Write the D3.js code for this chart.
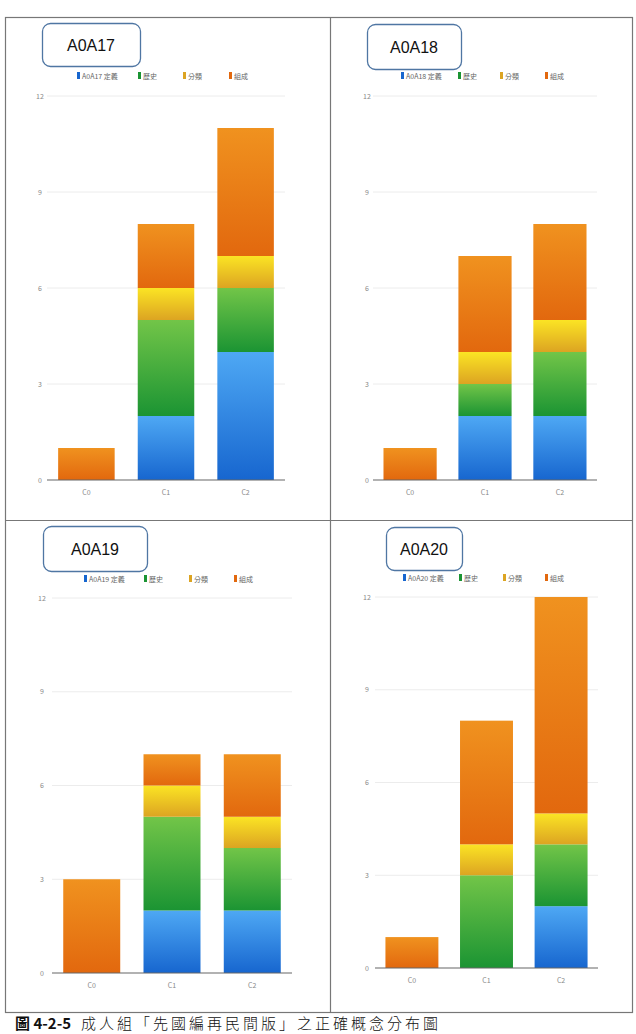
<!DOCTYPE html>
<html>
<head>
<meta charset="utf-8">
<script src="https://cdn.jsdelivr.net/npm/d3@7"></script>
<style>
  body { margin: 0; background: #fff; }
  svg { display: block; font-family: "Noto Sans CJK TC", "Noto Sans", sans-serif; }
</style>
</head>
<body>
<svg id="canvas" width="636" height="1034"></svg>
<script>
'use strict';

const categories = ['C0', 'C1', 'C2'];
const seriesNames = ['定義', '歷史', '分類', '組成'];
const panelNames = ['A0A17', 'A0A18', 'A0A19', 'A0A20'];
// one row per panel, one value per category
const defValues   = [[0, 2, 4], [0, 2, 2], [0, 2, 2], [0, 0, 2]];
const histValues  = [[0, 3, 2], [0, 1, 2], [0, 3, 2], [0, 3, 2]];
const classValues = [[0, 1, 1], [0, 1, 1], [0, 1, 1], [0, 1, 1]];
const compValues  = [[1, 2, 4], [1, 3, 3], [3, 1, 2], [1, 4, 7]];
const yTicks = [0, 3, 6, 9, 12];
const captionNo = '圖 4-2-5';
const captionText = '成人組「先國編再民間版」之正確概念分布圖';

const colors = [
	{top: '#4ea8f4', bottom: '#1766cf'},
	{top: '#72c548', bottom: '#1b9433'},
	{top: '#fbe424', bottom: '#dca422'},
	{top: '#f0921f', bottom: '#e2680e'}
];

// layout of the four panels (pixels)
const layout = [
	{x0: 47, x1: 285, yTop: 96, yBase: 480, labX: 40, legY: 76, legX: [77, 138, 183, 229], box: {x: 42, y: 23, w: 98, h: 43}},
	{x0: 373, x1: 597, yTop: 96, yBase: 480, labX: 367, legY: 76, legX: [401, 458, 500, 545], box: {x: 367, y: 24, w: 94, h: 45}},
	{x0: 52, x1: 292, yTop: 598, yBase: 973, labX: 42, legY: 579, legX: [84, 144, 189, 234], box: {x: 43, y: 526, w: 104, h: 45}},
	{x0: 375, x1: 598, yTop: 597, yBase: 968, labX: 367, legY: 578, legX: [403, 459, 503, 545], box: {x: 386, y: 527, w: 76, h: 43}}
];

const svg = d3.select('#canvas');

// gradients
const defs = svg.append('defs');
colors.forEach((c, i) => {
	const g = defs.append('linearGradient')
		.attr('id', 'grad' + i)
		.attr('x1', 0).attr('y1', 0).attr('x2', 0).attr('y2', 1);
	g.append('stop').attr('offset', '0%').attr('stop-color', c.top);
	g.append('stop').attr('offset', '100%').attr('stop-color', c.bottom);
});

// frame
svg.append('rect')
	.attr('x', 5.5).attr('y', 17.5).attr('width', 627).attr('height', 995)
	.attr('fill', 'none').attr('stroke', '#777').attr('stroke-width', 1.2);
svg.append('line')
	.attr('x1', 330.5).attr('x2', 330.5).attr('y1', 17.5).attr('y2', 1012.5)
	.attr('stroke', '#777').attr('stroke-width', 1.2);
svg.append('line')
	.attr('x1', 5.5).attr('x2', 632.5).attr('y1', 520.5).attr('y2', 520.5)
	.attr('stroke', '#777').attr('stroke-width', 1.2);

panelNames.forEach((name, p) => {
	const L = layout[p];
	const g = svg.append('g');

	const rows = categories.map((c, i) => ({
		cat: c,
		s0: defValues[p][i], s1: histValues[p][i], s2: classValues[p][i], s3: compValues[p][i]
	}));
	const stack = d3.stack().keys(['s0', 's1', 's2', 's3'])(rows);

	const x = d3.scaleBand()
		.domain(categories)
		.range([L.x0, L.x1])
		.paddingInner(0.29)
		.paddingOuter(0.14);
	const y = d3.scaleLinear()
		.domain([0, 12])
		.range([L.yBase, L.yTop]);

	// grid
	g.selectAll('line.grid')
		.data(yTicks.filter(t => t > 0))
		.join('line')
		.attr('x1', L.x0).attr('x2', L.x1)
		.attr('y1', d => y(d)).attr('y2', d => y(d))
		.attr('stroke', '#ececec').attr('stroke-width', 1);

	// y labels
	g.selectAll('text.ytick')
		.data(yTicks)
		.join('text')
		.attr('x', L.labX)
		.attr('y', d => y(d) + 2.5)
		.attr('text-anchor', 'middle')
		.attr('font-size', 7)
		.attr('fill', '#888')
		.text(d => d);

	// bars
	stack.forEach((layer, k) => {
		g.selectAll('rect.s' + k)
			.data(layer.filter(d => d[1] > d[0]))
			.join('rect')
			.attr('x', d => x(d.data.cat))
			.attr('y', d => y(d[1]))
			.attr('width', x.bandwidth())
			.attr('height', d => y(d[0]) - y(d[1]))
			.attr('fill', 'url(#grad' + k + ')');
	});

	// baseline
	g.append('line')
		.attr('x1', L.x0).attr('x2', L.x1)
		.attr('y1', y(0)).attr('y2', y(0))
		.attr('stroke', '#666').attr('stroke-width', 1.2);

	// x labels
	g.selectAll('text.xtick')
		.data(categories)
		.join('text')
		.attr('x', d => x(d) + x.bandwidth() / 2)
		.attr('y', y(0) + 15)
		.attr('text-anchor', 'middle')
		.attr('font-size', 7)
		.attr('fill', '#888')
		.text(d => d);

	// legend
	seriesNames.forEach((s, k) => {
		g.append('rect')
			.attr('x', L.legX[k]).attr('y', L.legY - 4)
			.attr('width', 3).attr('height', 7)
			.attr('fill', colors[k].bottom);
		g.append('text')
			.attr('x', L.legX[k] + 5).attr('y', L.legY + 2.5)
			.attr('font-size', 7)
			.attr('fill', '#666')
			.text(k === 0 ? name + ' ' + s : s);
	});

	// title box
	g.append('rect')
		.attr('x', L.box.x + 0.5).attr('y', L.box.y + 0.5)
		.attr('width', L.box.w).attr('height', L.box.h)
		.attr('rx', 8)
		.attr('fill', '#fff')
		.attr('stroke', '#4f76a3').attr('stroke-width', 1.3);
	g.append('text')
		.attr('x', L.box.x + L.box.w / 2)
		.attr('y', L.box.y + L.box.h / 2 + 6)
		.attr('text-anchor', 'middle')
		.attr('font-family', 'Liberation Sans, Arial, sans-serif')
		.attr('font-size', 16)
		.attr('fill', '#111')
		.text(name);
});

// caption
const cap = svg.append('text')
	.attr('x', 15).attr('y', 1029)
	.attr('font-size', 15)
	.attr('fill', '#111');
cap.append('tspan').attr('font-weight', 'bold').text(captionNo);
cap.append('tspan').attr('dx', 10)
	.attr('font-family', '"Noto Sans CJK TC", serif')
	.attr('font-weight', 300)
	.attr('letter-spacing', 3)
	.text(captionText);
</script>
</body>
</html>
